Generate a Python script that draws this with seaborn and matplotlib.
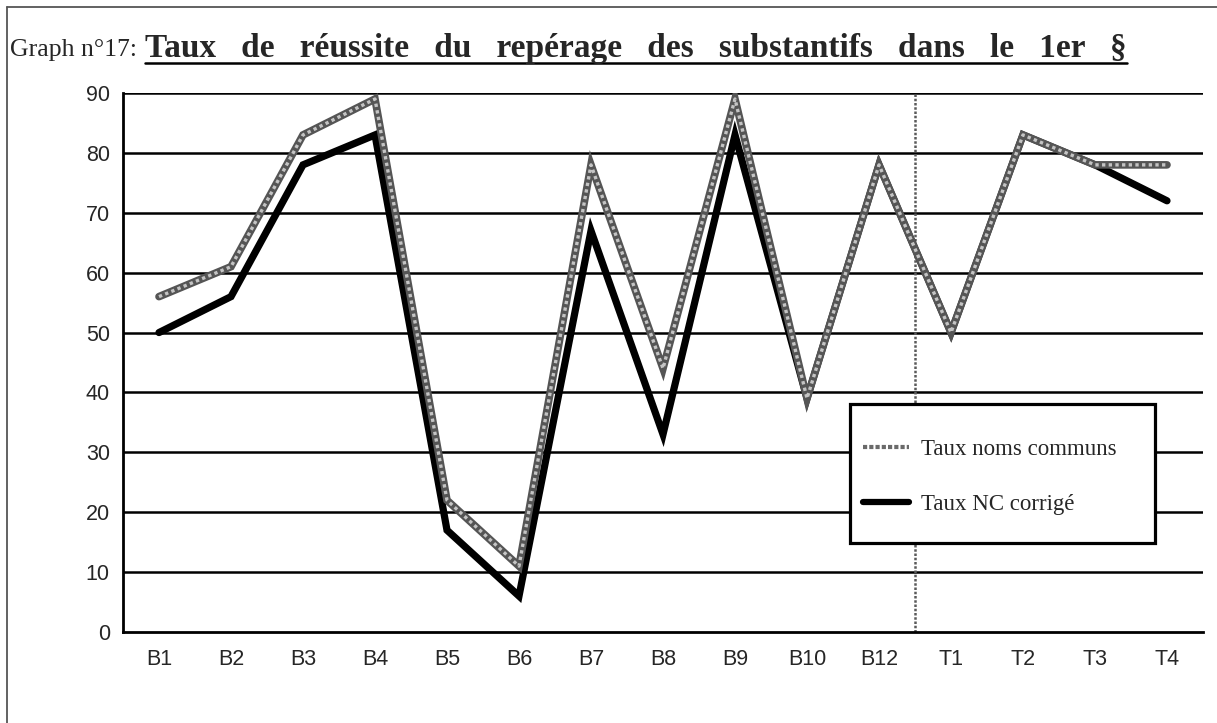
import numpy as np
import pandas as pd
import matplotlib
matplotlib.use("Agg")
import matplotlib.pyplot as plt
from matplotlib.lines import Line2D
from matplotlib.patches import Rectangle
import seaborn as sns

categories = ["B1", "B2", "B3", "B4", "B5", "B6", "B7", "B8", "B9", "B10", "B12", "T1", "T2", "T3", "T4"]
taux_noms_communs = [56, 61, 83, 89, 22, 11, 78, 44, 89, 39, 78, 50, 83, 78, 78]
taux_nc_corrige = [50, 56, 78, 83, 17, 6, 67, 33, 83, 39, 78, 50, 83, 78, 72]
y_ticks = [0, 10, 20, 30, 40, 50, 60, 70, 80, 90]
label_nc = "Taux noms communs"
label_corr = "Taux NC corrigé"
fig_label = "Graph n°17:"
title_words = ["Taux", "de", "réussite", "du", "repérage", "des", "substantifs", "dans", "le", "1er", "§"]

df = pd.DataFrame({"pos": np.arange(len(categories)), "cat": categories,
                   "nc": taux_noms_communs, "corr": taux_nc_corrige})

sns.set_style("white")
plt.rcParams["font.family"] = ["Liberation Sans", "DejaVu Sans"]

W, H = 1217, 723
fig = plt.figure(figsize=(W / 100, H / 100), dpi=100)
ax = fig.add_axes([123 / W, 1 - 632 / H, 1080 / W, 539 / H])

# black line first, textured grey line drawn over it
sns.lineplot(data=df, x="pos", y="corr", ax=ax, color="black", lw=5.2,
             solid_joinstyle="miter", zorder=3, sort=False)
sns.lineplot(data=df, x="pos", y="nc", ax=ax, color="#555555", lw=5.5,
             solid_joinstyle="miter", zorder=3.1, sort=False)
sns.lineplot(data=df, x="pos", y="nc", ax=ax, color="#c4c4c4", lw=2.4,
             linestyle=(0, (1, 1)), zorder=3.2, sort=False)

ax.set_xlim(-0.5, len(categories) - 0.5)
ax.set_ylim(0, 90)
ax.set_yticks(y_ticks)
ax.set_yticklabels([str(v) for v in y_ticks], fontsize=15.5)
ax.set_xticks(np.arange(len(categories) - 1) + 0.5)
ax.set_xticklabels([])
ax.set_xticks(np.arange(len(categories)), minor=True)
ax.set_xticklabels(categories, minor=True, fontsize=15.5)
ax.tick_params(axis="x", which="major", direction="inout", length=9, width=1.6, color="black")
ax.tick_params(axis="x", which="minor", length=0, pad=12)
ax.tick_params(axis="y", direction="out", length=4.5, width=1.6, color="black", pad=5)
ax.set_xlabel("")
ax.set_ylabel("")

for v in y_ticks[1:]:
    ax.axhline(v, color="black", lw=1.8, zorder=1)
ax.axvline(len(categories) - 4.5, color="#5a5a5a", lw=1.8, linestyle=(0, (1, 0.7)), zorder=1.5)

for s in ["top", "right"]:
    ax.spines[s].set_visible(False)
for s in ["left", "bottom"]:
    ax.spines[s].set_color("black")
    ax.spines[s].set_linewidth(2)

# legend box
box = Rectangle((850 / W, 1 - 543 / H), 305 / W, 139 / H, transform=fig.transFigure,
                facecolor="white", edgecolor="black", lw=2.3, zorder=5)
fig.add_artist(box)
handles = [Line2D([], [], color="#6a6a6a", lw=3, linestyle=(0, (1, 0.5))),
           Line2D([], [], color="black", lw=4.5)]
leg = fig.legend(handles, [label_nc, label_corr], loc="center left",
                 bbox_to_anchor=(863 / W, 1 - 477 / H), frameon=False,
                 prop={"family": "Liberation Serif", "size": 16.5},
                 handlelength=2.0, handletextpad=0.55, labelspacing=1.45,
                 borderpad=0, borderaxespad=0)
leg.set_zorder(6)

# page frame
fig.add_artist(Line2D([7 / W, 7 / W], [0, 1 - 7 / H], transform=fig.transFigure, color="#555555", lw=1.3))
fig.add_artist(Line2D([7 / W, 1], [1 - 7 / H, 1 - 7 / H], transform=fig.transFigure, color="#555555", lw=1.3))

fig.text(10 / W, 1 - 56 / H, fig_label, family="Liberation Serif", fontsize=18.5, va="baseline", ha="left")
t = fig.text(145 / W, 1 - 57 / H, "   ".join(title_words), family="Liberation Serif",
             fontsize=24, fontweight="bold", va="baseline", ha="left")
fig.canvas.draw()
bb = t.get_window_extent()
fig.add_artist(Line2D([bb.x0 / W, bb.x1 / W], [1 - 63 / H, 1 - 63 / H], transform=fig.transFigure,
                      color="black", lw=1.8))

fig.savefig("out.png", dpi=100)
